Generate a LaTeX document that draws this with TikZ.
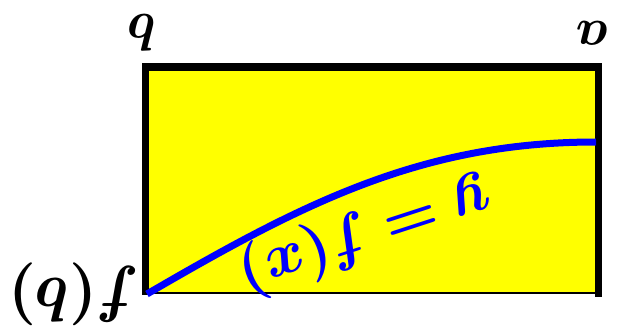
\documentclass[tikz,border=0pt]{standalone}
\usepackage{amsmath,bm}
\definecolor{yel}{RGB}{255,255,0}
\definecolor{blu}{RGB}{0,0,255}
\begin{document}
\begin{tikzpicture}[x=1pt,y=-1pt,
  thickside/.style={line width=7.5pt,black},
  lbl/.style={inner sep=0pt,rotate=180}]
\useasboundingbox (0,0) rectangle (619,334);
\fill[yel] (146,67) rectangle (598,293);
\draw[line width=2pt] (146,292.5) -- (598,292.5);
\draw[thickside] (142,67) -- (602,67);
\draw[thickside] (145.5,63.5) -- (145.5,295);
\draw[thickside] (598.5,63.5) -- (598.5,297);
\coordinate (s) at (147,294);
\coordinate (e) at (596,142);
\draw[blu,line width=7pt] (s) .. controls (300,205) and (420,142) .. (e);
\node[lbl,scale=5.3] (b) at (143,33) {$\bm{b}$};
\node[lbl,scale=5.3] (a) at (593,33) {$\bm{a}$};
\node[lbl,scale=6.3] (fb) at (74,294) {$\bm{f(b)}$};
\node[lbl,scale=6.1,rotate=18,blu] (yf) at (365,236) {$\bm{y=f(x)}$};
\end{tikzpicture}
\end{document}
